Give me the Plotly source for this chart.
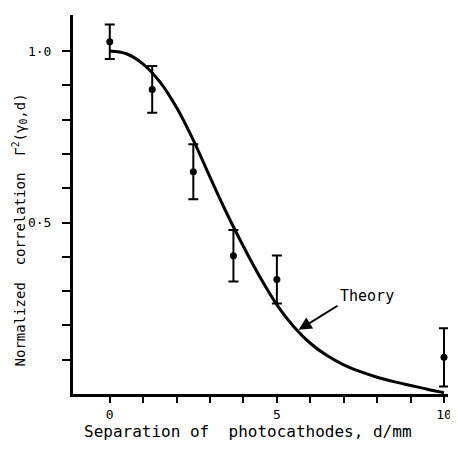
import plotly.graph_objects as go

# Measured data (separation d in mm, normalized correlation)
sep_mm = [0.0, 1.27, 2.5, 3.7, 5.0, 10.0]
corr = [1.027, 0.888, 0.648, 0.403, 0.334, 0.107]
corr_err = [0.05, 0.068, 0.08, 0.075, 0.07, 0.085]

# Theory curve
theory_x = [0.0, 0.5, 1.0, 1.5, 2.0, 2.5, 3.0, 3.5, 4.0, 4.5, 5.0, 5.5, 6.0, 6.5,
            7.0, 7.5, 8.0, 8.5, 9.0, 9.5, 10.0]
theory_y = [1.0, 0.992, 0.962, 0.91, 0.835, 0.74, 0.632, 0.527, 0.43, 0.34, 0.26, 0.197,
            0.148, 0.112, 0.085, 0.065, 0.049, 0.036, 0.025, 0.014, 0.004]

x_tickvals = [0, 1, 2, 3, 4, 5, 6, 7, 8, 9, 10]
x_ticktext = ["0", "", "", "", "", "5", "", "", "", "", "10"]
y_tickvals = [0.1, 0.2, 0.3, 0.4, 0.5, 0.6, 0.7, 0.8, 0.9, 1.0]
y_ticktext = ["", "", "", "", "0·5", "", "", "", "", "1·0"]

FONT = "DejaVu Sans Mono"

fig = go.Figure()
fig.add_trace(go.Scatter(
    x=theory_x, y=theory_y, mode="lines",
    line=dict(color="black", width=3, shape="spline", smoothing=1.0),
    showlegend=False, hoverinfo="skip"))
fig.add_trace(go.Scatter(
    x=sep_mm, y=corr, mode="markers",
    marker=dict(color="black", size=7),
    error_y=dict(type="data", array=corr_err, visible=True, color="black", thickness=2, width=5),
    showlegend=False, cliponaxis=False))

# The page body adds an 8px offset, so the figure is sized to fit the window.
fig.update_layout(
    width=450, height=444,
    margin=dict(l=65, r=6, t=7, b=58),
    paper_bgcolor="white", plot_bgcolor="white",
    font=dict(family=FONT, color="black", size=12),
    xaxis=dict(range=[-1.1, 10.12], showgrid=False, zeroline=False,
               showline=True, linecolor="black", linewidth=3,
               ticks="outside", ticklen=6, tickwidth=2, tickcolor="black",
               tickvals=x_tickvals, ticktext=x_ticktext,
               tickfont=dict(family=FONT, size=13)),
    yaxis=dict(range=[0, 1.105], showgrid=False, zeroline=False,
               showline=True, linecolor="black", linewidth=3,
               ticks="outside", ticklen=8, tickwidth=2, tickcolor="black",
               tickvals=y_tickvals, ticktext=y_ticktext,
               tickfont=dict(family=FONT, size=13), ticklabelstandoff=8),
)

fig.add_annotation(x=0.467, y=-0.098, xref="paper", yref="paper",
                   text="Separation of  photocathodes, d/mm", showarrow=False,
                   font=dict(family=FONT, size=16), xanchor="center", yanchor="middle")
fig.add_annotation(x=-0.1425, y=0.433, xref="paper", yref="paper",
                   text="Normalized  correlation  Γ<sup>2</sup>(γ<sub>0</sub>,d)", showarrow=False,
                   textangle=-90, font=dict(family=FONT, size=14),
                   xanchor="center", yanchor="middle")
fig.add_annotation(x=7.69, y=0.286, xref="x", yref="y", text="Theory", showarrow=False,
                   font=dict(family=FONT, size=15), xanchor="center", yanchor="middle")
fig.add_annotation(x=5.65, y=0.187, xref="x", yref="y", ax=6.86, ay=0.26,
                   axref="x", ayref="y", text="", showarrow=True,
                   arrowhead=2, arrowsize=1.3, arrowwidth=2, arrowcolor="black")

fig.write_html("out.html")
